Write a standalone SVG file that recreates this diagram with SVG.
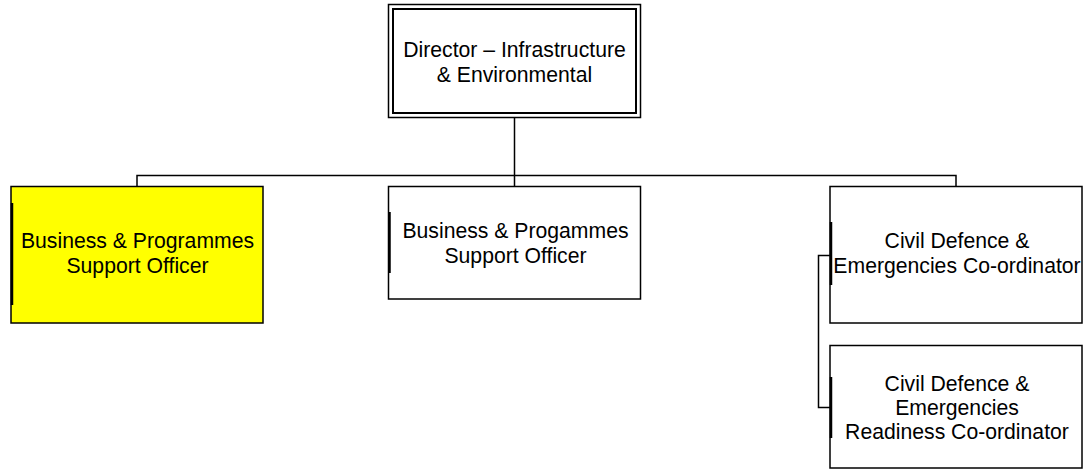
<svg xmlns="http://www.w3.org/2000/svg" width="1085" height="471" viewBox="0 0 1085 471">
<style>
.box{fill:#fff;stroke:#000;stroke-width:1.5}
.bar{stroke:#000;stroke-width:2.5}
.ln{fill:none;stroke:#000;stroke-width:1.5}
text{font-family:"Liberation Sans",Arial,sans-serif;font-size:21.2px;fill:#000;text-anchor:middle}
</style>
<rect width="1085" height="471" fill="#fff"/>
<g id="connectors">
<path class="ln" d="M514.5 118 V175.5 M137 186 V175.5 H956 V186 M514.5 175.5 V186"/>
<path class="ln" d="M830 255.5 H818.5 V407.5 H830"/>
</g>
<g id="director">
<rect x="388.5" y="4.5" width="252" height="113" fill="#fff" stroke="#000" stroke-width="1.5"/>
<rect x="393" y="9" width="243" height="104" fill="none" stroke="#000" stroke-width="2"/>
<text x="514.5" y="57">Director – Infrastructure</text>
<text x="514.5" y="81.5">&amp; Environmental</text>
</g>
<g id="bpso1">
<rect class="box" x="11" y="186.5" width="252" height="136.5" style="fill:#ffff00"/>
<line class="bar" x1="12" y1="203" x2="12" y2="305"/>
<text x="137.5" y="248">Business &amp; Programmes</text>
<text x="137.5" y="272.5">Support Officer</text>
</g>
<g id="bpso2">
<rect class="box" x="388.5" y="186.5" width="252" height="112.5"/>
<line class="bar" x1="389.5" y1="212" x2="389.5" y2="273"/>
<text x="515.5" y="238">Business &amp; Progammes</text>
<text x="515.5" y="262.5">Support Officer</text>
</g>
<g id="cdec">
<rect class="box" x="830" y="186.5" width="252" height="136.5"/>
<line class="bar" x1="831" y1="222" x2="831" y2="285"/>
<text x="957" y="248">Civil Defence &amp;</text>
<text x="957" y="272.5">Emergencies Co-ordinator</text>
</g>
<g id="cderc">
<rect class="box" x="830" y="345.5" width="252" height="122.5"/>
<line class="bar" x1="831" y1="377" x2="831" y2="438"/>
<text x="957" y="391">Civil Defence &amp;</text>
<text x="957" y="415">Emergencies</text>
<text x="957" y="439">Readiness Co-ordinator</text>
</g>
</svg>
